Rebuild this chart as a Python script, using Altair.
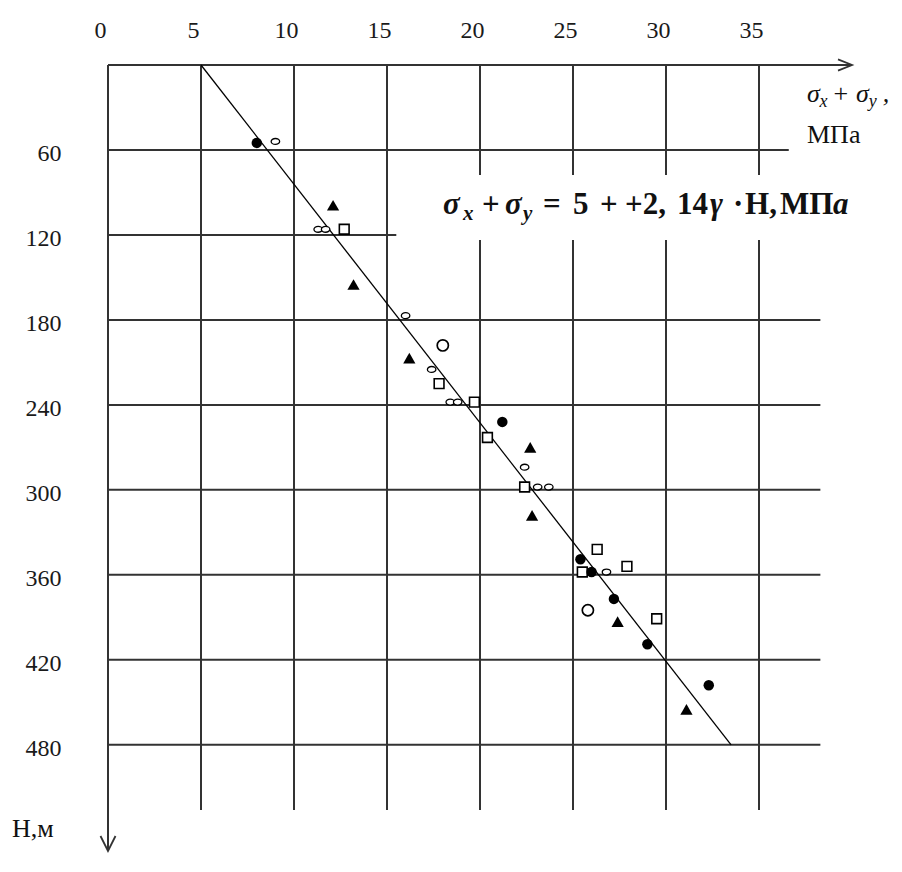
import altair as alt
import pandas as pd

# ---------------- data ----------------
# filled circles
fc_x = [8.0, 21.2, 25.4, 26.0, 27.2, 29.0, 32.3]
fc_h = [55, 252, 349, 358, 377, 409, 438]
# filled triangles
tri_x = [12.1, 13.2, 16.2, 22.7, 22.8, 27.4, 31.1]
tri_h = [99, 155, 207, 270, 318, 393, 455]
# open squares
sq_x = [12.7, 17.8, 19.7, 20.4, 22.4, 26.3, 25.5, 27.9, 29.5]
sq_h = [116, 225, 238, 263, 298, 342, 358, 354, 391]
# large open circles
oc_x = [18.0, 25.8]
oc_h = [198, 385]
# small open ovals
so_x = [9.0, 11.3, 11.7, 16.0, 17.4, 18.4, 18.8, 22.4, 23.1, 23.7, 26.8]
so_h = [54, 116, 116, 177, 215, 238, 238, 284, 298, 298, 358]
# regression line  sigma = 5 + 2.14*gamma*H
fit_x = [5, 33.5]
fit_h = [0, 480]

x_ticks = [0, 5, 10, 15, 20, 25, 30, 35]
y_ticks = [60, 120, 180, 240, 300, 360, 420, 480]

# grid extents
vgrid_x = [5, 10, 15, 20, 25, 30, 35]
vgrid_end = 526
hgrid_h = [60, 120, 180, 240, 300, 360, 420, 480]
hgrid_end = [36.6, 40, 38.3, 38.3, 38.3, 38.3, 38.3, 38.3]

# ---------------- annotations ----------------
eq_bold_t = ["+", "=", "5", "+", "+2,", "14", "·", "Н,", "МП"]
eq_bold_x = [20.11, 23.39, 25.0, 26.45, 27.80, 30.59, 33.60, 34.25, 36.13]
eq_it_t = ["σ", "σ", "γ", "a"]
eq_it_x = [18.01, 21.34, 32.37, 38.98]
eq_sub_t = ["x", "y"]
eq_sub_x = [19.09, 22.31]
eq_base = 105
eq_sub_base = 109.5

ax_it_t = ["σ", "σ", ","]
ax_it_x = [37.58, 40.22, 41.65]
ax_sub_t = ["x", "y"]
ax_sub_x = [38.25, 40.90]
ax_up_t = ["+", "МПа"]
ax_up_x = [39.0, 37.58]
ax_up_h = [26.1, 55]
ax_base = 26.1
ax_sub_base = 30

hm_t = ["Н,м"]
hm_x = [-5.16]
hm_h = [545]

# ---------------- scales / axes ----------------
XMAX, HMAX = 40, 555
xs = alt.Scale(domain=[0, XMAX], nice=False, zero=False)
ys = alt.Scale(domain=[0, HMAX], nice=False, zero=False, reverse=True)
FONT = "Liberation Serif"
xaxis = alt.Axis(orient="top", values=x_ticks, title=None, grid=False, ticks=False,
                 tickSize=0, domain=False, labelPadding=28, labelBaseline="alphabetic",
                 labelOffset=-8, labelFont=FONT, labelFontSize=24, labelColor="#1a1a1a",
                 labelAngle=0, labelOverlap=False, labelFlush=False)
yaxis = alt.Axis(orient="left", values=y_ticks, title=None, grid=False, ticks=False,
                 tickSize=0, domain=False, labelPadding=47, labelOffset=4,
                 labelFont=FONT, labelFontSize=24, labelColor="#1a1a1a",
                 labelOverlap=False, labelFlush=False)


def X(f):
    return alt.X(f, type="quantitative", scale=xs, axis=xaxis)


def Y(f):
    return alt.Y(f, type="quantitative", scale=ys, axis=yaxis)


GRID = "#333333"

vgrid = alt.Chart(pd.DataFrame({"x": vgrid_x, "h": 0, "h2": vgrid_end})).mark_rule(
    color=GRID, strokeWidth=2).encode(x=X("x"), y=Y("h"), y2="h2")
hgrid = alt.Chart(pd.DataFrame({"h": hgrid_h, "x": 0, "x2": hgrid_end})).mark_rule(
    color=GRID, strokeWidth=2).encode(y=Y("h"), x=X("x"), x2="x2")
xline = alt.Chart(pd.DataFrame({"x": [0], "x2": [XMAX], "h": [0]})).mark_rule(
    color=GRID, strokeWidth=2).encode(x=X("x"), x2="x2", y=Y("h"))
yline = alt.Chart(pd.DataFrame({"x": [0], "h": [0], "h2": [HMAX]})).mark_rule(
    color=GRID, strokeWidth=2).encode(x=X("x"), y=Y("h"), y2="h2")
xarrow = alt.Chart(pd.DataFrame({"x": [XMAX], "h": [0]})).mark_point(
    shape="M-1,-0.4L0,0L-1,0.4", filled=False, color=GRID, strokeWidth=1.8,
    size=784, opacity=1).encode(x=X("x"), y=Y("h"))
yarrow = alt.Chart(pd.DataFrame({"x": [0], "h": [HMAX]})).mark_point(
    shape="M-0.5,-1L0,0L0.5,-1", filled=False, color=GRID, strokeWidth=1.8,
    size=900, opacity=1).encode(x=X("x"), y=Y("h"))

box = alt.Chart(pd.DataFrame({"x": [15.5], "x2": [XMAX], "h": [77.6], "h2": [123.5]})).mark_rect(
    color="white").encode(x=X("x"), x2="x2", y=Y("h"), y2="h2")

fit = alt.Chart(pd.DataFrame({"x": fit_x, "h": fit_h})).mark_line(
    color="black", strokeWidth=1.3).encode(x=X("x"), y=Y("h"))

pfc = alt.Chart(pd.DataFrame({"x": fc_x, "h": fc_h})).mark_point(
    shape="circle", filled=True, color="black", size=110, opacity=1).encode(x=X("x"), y=Y("h"))
ptri = alt.Chart(pd.DataFrame({"x": tri_x, "h": tri_h})).mark_point(
    shape="triangle-up", filled=True, color="black", size=150, opacity=1).encode(x=X("x"), y=Y("h"))
psq = alt.Chart(pd.DataFrame({"x": sq_x, "h": sq_h})).mark_point(
    shape="square", filled=False, color="black", fill="white", size=95, strokeWidth=1.6,
    opacity=1).encode(x=X("x"), y=Y("h"))
poc = alt.Chart(pd.DataFrame({"x": oc_x, "h": oc_h})).mark_point(
    shape="circle", filled=False, color="black", fill="white", size=125, strokeWidth=1.7,
    opacity=1).encode(x=X("x"), y=Y("h"))
pso = alt.Chart(pd.DataFrame({"x": so_x, "h": so_h})).mark_point(
    shape="M-1,0A1,0.7,0,1,0,1,0A1,0.7,0,1,0,-1,0Z", filled=False, color="black",
    fill="white", size=72, strokeWidth=1.3, opacity=1).encode(x=X("x"), y=Y("h"))


def texts(t, x, h, size, weight="normal", style="normal"):
    return alt.Chart(pd.DataFrame({"t": t, "x": x, "h": h})).mark_text(
        align="left", baseline="alphabetic", font=FONT, fontSize=size,
        fontWeight=weight, fontStyle=style, color="#111111").encode(
        x=X("x"), y=Y("h"), text="t:N")


eq1 = texts(eq_bold_t, eq_bold_x, [eq_base] * len(eq_bold_t), 31, "bold")
eq2 = texts(eq_it_t, eq_it_x, [eq_base] * len(eq_it_t), 31, "bold", "italic")
eq3 = texts(eq_sub_t, eq_sub_x, [eq_sub_base] * len(eq_sub_t), 21, "bold", "italic")

ax1 = texts(ax_it_t, ax_it_x, [ax_base] * len(ax_it_t), 26, "normal", "italic")
ax2 = texts(ax_sub_t, ax_sub_x, [ax_sub_base] * len(ax_sub_t), 18, "normal", "italic")
ax3 = texts(ax_up_t, ax_up_x, ax_up_h, 26)
hm = texts(hm_t, hm_x, hm_h, 26)

chart = alt.layer(
    vgrid, hgrid, xline, yline, xarrow, yarrow, box, fit,
    pso, psq, poc, ptri, pfc,
    eq1, eq2, eq3, ax1, ax2, ax3, hm,
).properties(
    width=744, height=786,
    autosize="none",
    padding={"left": 100, "top": 57, "right": 42, "bottom": 6},
    background="white",
).configure_view(stroke=None)

chart.save("out.html", embed_options={"renderer": "svg", "actions": False})
